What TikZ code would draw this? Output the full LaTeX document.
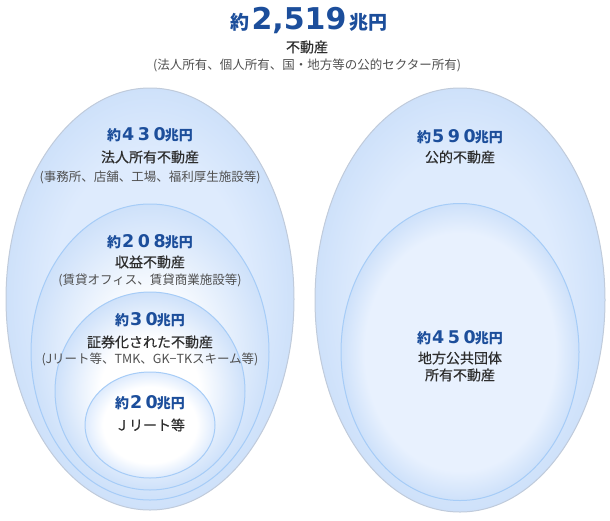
\documentclass[tikz,border=0pt]{standalone}
\usepackage{fontspec}
\setmainfont{Noto Sans CJK JP}
\newfontfamily\capfont[FakeBold=0.4]{Noto Sans CJK JP}
\newfontfamily\numfont[LetterSpace=20]{DejaVu Sans}
\newfontfamily\bignumfont{DejaVu Sans}
\usetikzlibrary{shapes.geometric}

\definecolor{figblue}{RGB}{28,78,155}
\definecolor{labelgray}{RGB}{45,45,45}
\definecolor{notegray}{RGB}{80,80,80}
\definecolor{rimgray}{RGB}{192,203,219}
\definecolor{rimblue}{RGB}{166,204,247}
\definecolor{skyedge}{RGB}{206,225,250}
\definecolor{skymid}{RGB}{222,235,253}
\definecolor{skypale}{RGB}{232,241,254}

\pgfdeclareradialshading{outershade}{\pgfpoint{0bp}{0bp}}{color(0bp)=(skymid); color(17bp)=(skymid); color(25bp)=(skyedge); color(50bp)=(skyedge)}
\pgfdeclareradialshading{secondshade}{\pgfpoint{0bp}{0bp}}{color(0bp)=(white); color(8bp)=(white); color(25bp)=(skyedge); color(50bp)=(skyedge)}
\pgfdeclareradialshading{thirdshade}{\pgfpoint{0bp}{0bp}}{color(0bp)=(white); color(13bp)=(white); color(25bp)=(skyedge); color(50bp)=(skyedge)}
\pgfdeclareradialshading{innershade}{\pgfpoint{0bp}{0bp}}{color(0bp)=(white); color(18bp)=(white); color(25bp)=(skymid); color(50bp)=(skymid)}
\pgfdeclareradialshading{publicshade}{\pgfpoint{0bp}{0bp}}{color(0bp)=(skypale); color(20bp)=(skypale); color(25bp)=(skyedge); color(50bp)=(skyedge)}

\newcommand{\amt}[1]{約\hspace{1pt}{\numfont\fontsize{17.5}{17.5}\selectfont #1}\hspace{-1pt}兆円}

\begin{document}
\begin{tikzpicture}[x=1pt,y=-1pt,
    bubble/.style={ellipse,inner sep=0pt,line width=1pt},
    amount/.style={text=figblue,font=\bfseries\fontsize{14}{14}\selectfont},
    caption/.style={text=labelgray,font=\capfont\fontsize{14}{14}\selectfont},
    note/.style={text=notegray,font=\fontsize{12.5}{12.5}\selectfont}]

  \useasboundingbox (0,0) rectangle (610,520);

  % draw outer ellipses
  \node[bubble,draw=rimgray,shading=outershade,minimum width=288pt,minimum height=422pt] (corp) at (150,299) {};
  \node[bubble,draw=rimgray,shading=outershade,minimum width=290pt,minimum height=424pt] (public) at (460,300) {};

  % draw nested ellipses
  \node[bubble,draw=rimblue,shading=secondshade,minimum width=238pt,minimum height=296pt] (income) at (150,352) {};
  \node[bubble,draw=rimblue,shading=thirdshade,minimum width=190pt,minimum height=198pt] (secur) at (150,391) {};
  \node[bubble,draw=rimblue,shading=innershade,minimum width=130pt,minimum height=106pt] (jreit) at (150,425) {};
  \node[bubble,draw=rimblue,shading=publicshade,minimum width=238pt,minimum height=297pt] (local) at (460,352) {};

  % draw title
  \node[amount] (t-total) at (309,20) {{\fontsize{19}{19}\selectfont 約}\hspace{2pt}{\bignumfont\fontsize{30}{30}\selectfont 2,519}\hspace{3pt}{\fontsize{19}{19}\selectfont 兆円}};
  \node[caption] (t-all) at (307,47) {不動産};
  \node[note] (t-allnote) at (307,65) {(法人所有、個人所有、国・地方等の公的セクター所有)};

  % draw left labels
  \node[amount] (t-corp) at (150,135) {\amt{430}};
  \node[caption] (t-corpname) at (150,157) {法人所有不動産};
  \node[note] (t-corpnote) at (150,177) {(事務所、店舗、工場、福利厚生施設等)};

  \node[amount] (t-income) at (150,242) {\amt{208}};
  \node[caption] (t-incomename) at (150,262) {収益不動産};
  \node[note] (t-incomenote) at (150,280) {(賃貸オフィス、賃貸商業施設等)};

  \node[amount] (t-secur) at (150,320) {\amt{30}};
  \node[caption] (t-securname) at (150,342) {証券化された不動産};
  \node[note] (t-securnote) at (150,359) {(Jリート等、TMK、GK−TKスキーム等)};

  \node[amount] (t-jreit) at (150,403) {\amt{20}};
  \node[caption] (t-jreitname) at (150,425) {Ｊリート等};

  % draw right labels
  \node[amount] (t-public) at (460,137) {\amt{590}};
  \node[caption] (t-publicname) at (460,157) {公的不動産};

  \node[amount] (t-local) at (460,338) {\amt{450}};
  \node[caption] (t-localname) at (460,358) {地方公共団体};
  \node[caption] (t-localname2) at (460,375) {所有不動産};

\end{tikzpicture}
\end{document}
